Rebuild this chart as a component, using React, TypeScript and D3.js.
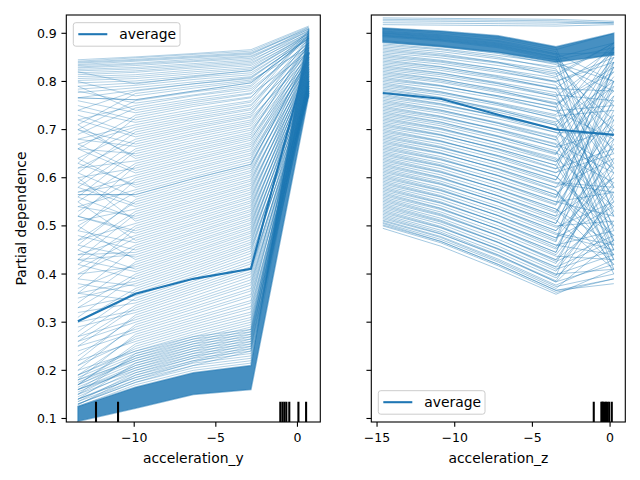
import React from 'react';
import * as d3 from 'd3';

// grid values of each feature
const accYGrid = [-13.45, -9.92, -6.38, -2.85, 0.69];
const accZGrid = [-14.63, -10.91, -7.2, -3.48, 0.24];

// average partial dependence
const accYAverage = [0.302, 0.359, 0.39, 0.411, 0.86];
const accZAverage = [0.776, 0.764, 0.731, 0.7, 0.689];

// dense bundles of ICE curves (lower / upper envelope)
const accYDenseLow = [0.094, 0.121, 0.15, 0.16, 0.77];
const accYDenseHigh = [0.125, 0.165, 0.195, 0.21, 0.91];
const accZDenseLow = [0.882, 0.872, 0.86, 0.84, 0.855];
const accZDenseHigh = [0.911, 0.905, 0.895, 0.872, 0.9];

// individual ICE curves
const accYIce = [
  [0.845, 0.851, 0.858, 0.866, 0.915], [0.842, 0.849, 0.856, 0.863, 0.913],
  [0.84, 0.846, 0.853, 0.86, 0.91], [0.838, 0.844, 0.851, 0.858, 0.908],
  [0.835, 0.842, 0.849, 0.856, 0.912], [0.833, 0.838, 0.846, 0.853, 0.905],
  [0.83, 0.836, 0.843, 0.851, 0.903], [0.828, 0.833, 0.841, 0.848, 0.909],
  [0.825, 0.829, 0.837, 0.845, 0.9], [0.822, 0.826, 0.834, 0.842, 0.906],
  [0.818, 0.822, 0.831, 0.839, 0.898], [0.814, 0.819, 0.828, 0.836, 0.902],
  [0.81, 0.814, 0.824, 0.833, 0.895], [0.806, 0.81, 0.82, 0.829, 0.899],
  [0.802, 0.806, 0.816, 0.826, 0.893], [0.797, 0.801, 0.812, 0.822, 0.896],
  [0.79, 0.797, 0.808, 0.818, 0.89], [0.784, 0.792, 0.804, 0.814, 0.894],
  [0.777, 0.787, 0.799, 0.81, 0.888], [0.766, 0.782, 0.795, 0.806, 0.892],
  [0.766, 0.762, 0.78, 0.797, 0.89], [0.766, 0.762, 0.78, 0.797, 0.89],
  [0.74, 0.78, 0.795, 0.808, 0.89], [0.8, 0.77, 0.786, 0.8, 0.885],
  [0.7, 0.76, 0.778, 0.792, 0.905], [0.72, 0.75, 0.77, 0.785, 0.88],
  [0.79, 0.74, 0.76, 0.776, 0.895], [0.66, 0.73, 0.752, 0.768, 0.875],
  [0.75, 0.72, 0.742, 0.76, 0.9], [0.68, 0.71, 0.733, 0.752, 0.87],
  [0.64, 0.7, 0.724, 0.744, 0.885], [0.73, 0.69, 0.715, 0.736, 0.865],
  [0.62, 0.68, 0.706, 0.728, 0.89], [0.7, 0.67, 0.697, 0.72, 0.86],
  [0.58, 0.66, 0.688, 0.712, 0.88], [0.66, 0.65, 0.678, 0.703, 0.855],
  [0.71, 0.64, 0.668, 0.694, 0.875], [0.55, 0.63, 0.659, 0.686, 0.85],
  [0.6, 0.62, 0.65, 0.678, 0.87], [0.66, 0.61, 0.64, 0.669, 0.845],
  [0.53, 0.6, 0.631, 0.66, 0.865], [0.57, 0.59, 0.621, 0.651, 0.84],
  [0.64, 0.58, 0.612, 0.642, 0.86], [0.5, 0.57, 0.602, 0.633, 0.835],
  [0.565, 0.565, 0.598, 0.628, 0.85], [0.565, 0.565, 0.598, 0.628, 0.85],
  [0.61, 0.56, 0.593, 0.624, 0.855], [0.47, 0.55, 0.583, 0.615, 0.83],
  [0.58, 0.54, 0.574, 0.606, 0.85], [0.45, 0.53, 0.564, 0.597, 0.825],
  [0.54, 0.52, 0.554, 0.588, 0.845], [0.6, 0.51, 0.545, 0.579, 0.82],
  [0.42, 0.5, 0.535, 0.57, 0.84], [0.52, 0.49, 0.525, 0.561, 0.815],
  [0.44, 0.48, 0.516, 0.552, 0.835], [0.55, 0.47, 0.506, 0.543, 0.81],
  [0.4, 0.46, 0.497, 0.534, 0.83], [0.48, 0.45, 0.487, 0.525, 0.805],
  [0.43, 0.44, 0.478, 0.516, 0.825], [0.5, 0.43, 0.468, 0.507, 0.8],
  [0.37, 0.42, 0.459, 0.498, 0.82], [0.45, 0.41, 0.449, 0.489, 0.795],
  [0.33, 0.4, 0.44, 0.48, 0.815], [0.42, 0.39, 0.43, 0.471, 0.79],
  [0.35, 0.38, 0.42, 0.462, 0.81], [0.3, 0.37, 0.41, 0.453, 0.785],
  [0.38, 0.36, 0.4, 0.443, 0.805], [0.27, 0.35, 0.39, 0.432, 0.78],
  [0.32, 0.34, 0.38, 0.421, 0.8], [0.25, 0.33, 0.37, 0.41, 0.775],
  [0.29, 0.32, 0.36, 0.4, 0.795], [0.23, 0.31, 0.348, 0.388, 0.77],
  [0.26, 0.3, 0.338, 0.377, 0.79], [0.21, 0.29, 0.327, 0.365, 0.785],
  [0.24, 0.28, 0.316, 0.353, 0.775], [0.19, 0.27, 0.305, 0.34, 0.8],
  [0.22, 0.26, 0.295, 0.328, 0.78], [0.17, 0.25, 0.285, 0.316, 0.79],
  [0.2, 0.24, 0.275, 0.305, 0.775], [0.16, 0.23, 0.265, 0.295, 0.795],
  [0.18, 0.22, 0.255, 0.285, 0.78], [0.15, 0.21, 0.245, 0.275, 0.785],
  [0.16, 0.2, 0.235, 0.265, 0.79], [0.14, 0.19, 0.226, 0.255, 0.775],
  [0.13, 0.18, 0.217, 0.245, 0.8], [0.125, 0.17, 0.2, 0.215, 0.8],
  [0.13, 0.175, 0.205, 0.22, 0.85], [0.135, 0.18, 0.21, 0.225, 0.82],
  [0.14, 0.185, 0.215, 0.23, 0.87], [0.128, 0.19, 0.22, 0.235, 0.79],
  [0.15, 0.195, 0.225, 0.24, 0.84], [0.145, 0.2, 0.23, 0.245, 0.88],
  [0.155, 0.205, 0.235, 0.25, 0.81], [0.16, 0.21, 0.24, 0.255, 0.86],
  [0.165, 0.215, 0.245, 0.26, 0.83], [0.17, 0.22, 0.25, 0.265, 0.89],
  [0.175, 0.225, 0.255, 0.27, 0.8], [0.18, 0.23, 0.26, 0.275, 0.85],
  [0.185, 0.235, 0.265, 0.28, 0.82], [0.19, 0.24, 0.27, 0.285, 0.87],
  [0.82, 0.795, 0.81, 0.823, 0.9], [0.71, 0.775, 0.79, 0.803, 0.87],
  [0.78, 0.755, 0.772, 0.789, 0.895], [0.69, 0.745, 0.764, 0.781, 0.88],
  [0.76, 0.735, 0.756, 0.774, 0.86], [0.63, 0.725, 0.748, 0.766, 0.905],
  [0.74, 0.715, 0.737, 0.757, 0.87], [0.67, 0.705, 0.728, 0.749, 0.89],
  [0.61, 0.695, 0.72, 0.741, 0.86], [0.72, 0.685, 0.71, 0.732, 0.88],
  [0.59, 0.675, 0.702, 0.725, 0.85], [0.68, 0.665, 0.692, 0.716, 0.875],
  [0.56, 0.655, 0.683, 0.708, 0.865], [0.7, 0.645, 0.673, 0.699, 0.845],
  [0.62, 0.635, 0.664, 0.69, 0.88], [0.52, 0.625, 0.655, 0.682, 0.84],
  [0.67, 0.615, 0.645, 0.673, 0.86], [0.57, 0.605, 0.636, 0.665, 0.835],
  [0.49, 0.595, 0.626, 0.656, 0.855], [0.63, 0.585, 0.617, 0.647, 0.83],
  [0.54, 0.575, 0.607, 0.638, 0.85], [0.46, 0.555, 0.588, 0.62, 0.825],
  [0.59, 0.545, 0.579, 0.611, 0.845], [0.51, 0.535, 0.569, 0.602, 0.82],
  [0.43, 0.525, 0.559, 0.593, 0.84], [0.56, 0.515, 0.55, 0.584, 0.815],
  [0.47, 0.505, 0.54, 0.575, 0.835], [0.39, 0.495, 0.53, 0.566, 0.81],
  [0.52, 0.485, 0.521, 0.557, 0.83], [0.41, 0.475, 0.511, 0.548, 0.805],
  [0.49, 0.465, 0.502, 0.539, 0.825], [0.36, 0.455, 0.492, 0.53, 0.8],
  [0.44, 0.445, 0.483, 0.521, 0.82], [0.46, 0.435, 0.473, 0.512, 0.795],
  [0.34, 0.425, 0.464, 0.503, 0.815], [0.4, 0.415, 0.454, 0.494, 0.79],
  [0.43, 0.405, 0.445, 0.485, 0.81], [0.31, 0.395, 0.435, 0.476, 0.785],
  [0.36, 0.385, 0.425, 0.466, 0.805], [0.39, 0.375, 0.415, 0.457, 0.78],
  [0.28, 0.365, 0.405, 0.448, 0.8], [0.33, 0.355, 0.395, 0.437, 0.775],
  [0.36, 0.345, 0.385, 0.426, 0.795], [0.26, 0.335, 0.375, 0.415, 0.77],
  [0.3, 0.325, 0.365, 0.405, 0.79], [0.22, 0.315, 0.354, 0.394, 0.785],
  [0.27, 0.305, 0.343, 0.382, 0.775], [0.2, 0.295, 0.332, 0.37, 0.8],
  [0.25, 0.285, 0.321, 0.358, 0.78], [0.18, 0.275, 0.31, 0.345, 0.79],
  [0.21, 0.265, 0.3, 0.333, 0.775], [0.17, 0.255, 0.29, 0.321, 0.795],
  [0.19, 0.245, 0.28, 0.31, 0.78], [0.15, 0.235, 0.27, 0.3, 0.8],
  [0.17, 0.225, 0.26, 0.29, 0.785], [0.14, 0.215, 0.25, 0.28, 0.79],
  [0.16, 0.205, 0.24, 0.27, 0.775], [0.135, 0.195, 0.23, 0.26, 0.8],
  [0.14, 0.185, 0.22, 0.25, 0.78], [0.13, 0.175, 0.21, 0.24, 0.79],
];

const accZIce = [
  [0.932, 0.931, 0.93, 0.929, 0.925], [0.929, 0.928, 0.927, 0.926, 0.922],
  [0.926, 0.925, 0.924, 0.923, 0.92], [0.922, 0.921, 0.92, 0.919, 0.923],
  [0.918, 0.917, 0.916, 0.915, 0.918],
  [0.905, 0.897, 0.885, 0.862, 0.52], [0.9, 0.891, 0.878, 0.855, 0.65],
  [0.895, 0.886, 0.872, 0.848, 0.75], [0.91, 0.903, 0.892, 0.87, 0.58],
  [0.898, 0.889, 0.876, 0.851, 0.46], [0.903, 0.895, 0.883, 0.858, 0.8],
  [0.893, 0.884, 0.87, 0.845, 0.69], [0.908, 0.9, 0.889, 0.866, 0.9],
  [0.896, 0.887, 0.874, 0.85, 0.88], [0.901, 0.893, 0.88, 0.857, 0.86],
  [0.885, 0.875, 0.861, 0.845, 0.87], [0.878, 0.868, 0.854, 0.838, 0.8],
  [0.872, 0.862, 0.847, 0.83, 0.86], [0.866, 0.855, 0.84, 0.822, 0.72],
  [0.86, 0.849, 0.833, 0.815, 0.88], [0.854, 0.842, 0.826, 0.807, 0.62],
  [0.848, 0.836, 0.819, 0.8, 0.84], [0.842, 0.83, 0.812, 0.792, 0.55],
  [0.836, 0.823, 0.805, 0.785, 0.78], [0.83, 0.817, 0.798, 0.777, 0.47],
  [0.824, 0.81, 0.791, 0.769, 0.86], [0.818, 0.804, 0.784, 0.762, 0.66],
  [0.812, 0.798, 0.777, 0.754, 0.83], [0.806, 0.791, 0.77, 0.747, 0.43],
  [0.8, 0.785, 0.764, 0.739, 0.75], [0.794, 0.778, 0.756, 0.731, 0.87],
  [0.788, 0.772, 0.75, 0.724, 0.58], [0.782, 0.766, 0.743, 0.716, 0.8],
  [0.776, 0.759, 0.736, 0.709, 0.5], [0.77, 0.753, 0.729, 0.701, 0.85],
  [0.764, 0.746, 0.722, 0.694, 0.69], [0.758, 0.74, 0.715, 0.686, 0.45],
  [0.752, 0.734, 0.708, 0.679, 0.82], [0.746, 0.727, 0.701, 0.671, 0.61],
  [0.74, 0.721, 0.694, 0.664, 0.78], [0.734, 0.715, 0.687, 0.656, 0.4],
  [0.728, 0.708, 0.68, 0.648, 0.86], [0.722, 0.702, 0.673, 0.641, 0.54],
  [0.716, 0.695, 0.666, 0.633, 0.73], [0.71, 0.689, 0.66, 0.626, 0.44],
  [0.704, 0.683, 0.653, 0.618, 0.84], [0.698, 0.676, 0.646, 0.611, 0.65],
  [0.692, 0.67, 0.639, 0.603, 0.48], [0.686, 0.663, 0.632, 0.596, 0.8],
  [0.68, 0.657, 0.625, 0.588, 0.57], [0.674, 0.651, 0.618, 0.58, 0.76],
  [0.668, 0.644, 0.611, 0.573, 0.42], [0.662, 0.638, 0.604, 0.565, 0.68],
  [0.656, 0.631, 0.597, 0.558, 0.83], [0.65, 0.625, 0.59, 0.55, 0.52],
  [0.644, 0.619, 0.583, 0.543, 0.71], [0.638, 0.612, 0.576, 0.535, 0.46],
  [0.632, 0.606, 0.569, 0.527, 0.79], [0.626, 0.6, 0.562, 0.52, 0.6],
  [0.62, 0.593, 0.555, 0.512, 0.41], [0.614, 0.587, 0.549, 0.505, 0.74],
  [0.608, 0.58, 0.541, 0.497, 0.55], [0.602, 0.574, 0.535, 0.49, 0.67],
  [0.596, 0.568, 0.528, 0.482, 0.45], [0.59, 0.561, 0.521, 0.475, 0.62],
  [0.584, 0.555, 0.514, 0.467, 0.77], [0.578, 0.548, 0.507, 0.46, 0.49],
  [0.572, 0.542, 0.5, 0.452, 0.58], [0.566, 0.536, 0.493, 0.445, 0.7],
  [0.56, 0.529, 0.486, 0.437, 0.43], [0.554, 0.523, 0.479, 0.429, 0.53],
  [0.548, 0.516, 0.472, 0.422, 0.64], [0.542, 0.51, 0.465, 0.414, 0.47],
  [0.536, 0.504, 0.458, 0.406, 0.56], [0.53, 0.497, 0.451, 0.399, 0.44],
  [0.524, 0.491, 0.445, 0.392, 0.51], [0.518, 0.484, 0.437, 0.384, 0.42],
  [0.51, 0.476, 0.428, 0.374, 0.4], [0.5, 0.465, 0.417, 0.362, 0.39],
  [0.495, 0.458, 0.41, 0.358, 0.41], [0.505, 0.468, 0.42, 0.366, 0.39],
  [0.881, 0.873, 0.858, 0.835, 0.78], [0.875, 0.866, 0.85, 0.826, 0.63],
  [0.869, 0.858, 0.84, 0.81, 0.88], [0.863, 0.853, 0.838, 0.818, 0.49],
  [0.857, 0.844, 0.826, 0.8, 0.85], [0.851, 0.84, 0.822, 0.798, 0.7],
  [0.845, 0.831, 0.81, 0.784, 0.61], [0.839, 0.827, 0.808, 0.786, 0.87],
  [0.833, 0.818, 0.796, 0.768, 0.53], [0.827, 0.814, 0.795, 0.772, 0.76],
  [0.821, 0.805, 0.782, 0.752, 0.82], [0.815, 0.801, 0.78, 0.756, 0.45],
  [0.809, 0.792, 0.768, 0.738, 0.68], [0.803, 0.79, 0.77, 0.746, 0.88],
  [0.797, 0.779, 0.753, 0.722, 0.56], [0.791, 0.776, 0.754, 0.728, 0.74],
  [0.785, 0.767, 0.741, 0.709, 0.84], [0.779, 0.763, 0.74, 0.713, 0.41],
  [0.773, 0.754, 0.727, 0.694, 0.62], [0.767, 0.751, 0.728, 0.7, 0.79],
  [0.761, 0.741, 0.713, 0.678, 0.52], [0.755, 0.738, 0.713, 0.684, 0.87],
  [0.749, 0.728, 0.699, 0.663, 0.7], [0.743, 0.725, 0.7, 0.669, 0.47],
  [0.737, 0.716, 0.686, 0.65, 0.81], [0.731, 0.712, 0.685, 0.652, 0.59],
  [0.725, 0.703, 0.672, 0.634, 0.77], [0.719, 0.7, 0.672, 0.638, 0.43],
  [0.713, 0.69, 0.658, 0.619, 0.66], [0.707, 0.688, 0.66, 0.626, 0.85],
  [0.701, 0.677, 0.644, 0.603, 0.5], [0.695, 0.675, 0.646, 0.61, 0.72],
  [0.689, 0.665, 0.631, 0.59, 0.58], [0.683, 0.662, 0.632, 0.595, 0.83],
  [0.677, 0.652, 0.617, 0.574, 0.44], [0.671, 0.65, 0.619, 0.58, 0.64],
  [0.665, 0.64, 0.604, 0.56, 0.75], [0.659, 0.637, 0.605, 0.565, 0.48],
  [0.653, 0.627, 0.59, 0.545, 0.87], [0.647, 0.624, 0.591, 0.55, 0.57],
  [0.641, 0.614, 0.576, 0.53, 0.69], [0.635, 0.611, 0.577, 0.535, 0.42],
  [0.629, 0.601, 0.562, 0.515, 0.63], [0.623, 0.598, 0.563, 0.52, 0.8],
  [0.617, 0.589, 0.549, 0.5, 0.51], [0.611, 0.586, 0.55, 0.505, 0.73],
  [0.605, 0.576, 0.535, 0.485, 0.46], [0.599, 0.573, 0.536, 0.49, 0.6],
  [0.593, 0.563, 0.521, 0.47, 0.84], [0.587, 0.56, 0.522, 0.475, 0.54],
  [0.581, 0.55, 0.507, 0.455, 0.66], [0.575, 0.547, 0.508, 0.46, 0.44],
  [0.569, 0.537, 0.493, 0.44, 0.59], [0.563, 0.534, 0.494, 0.445, 0.72],
  [0.557, 0.525, 0.48, 0.426, 0.48], [0.551, 0.521, 0.48, 0.43, 0.61],
  [0.545, 0.512, 0.466, 0.41, 0.45], [0.539, 0.508, 0.466, 0.415, 0.55],
  [0.533, 0.499, 0.452, 0.396, 0.68], [0.527, 0.496, 0.453, 0.4, 0.41],
  [0.521, 0.487, 0.44, 0.383, 0.5], [0.515, 0.483, 0.439, 0.386, 0.57],
  [0.512, 0.478, 0.431, 0.377, 0.43], [0.507, 0.472, 0.425, 0.37, 0.47],
  [0.502, 0.468, 0.42, 0.366, 0.38],
];

// deciles of the feature values (rug)
const accYDeciles = [-12.34, -10.99, -1.05, -0.92, -0.8, -0.68, -0.5, 0.06, 0.53];
const accZDeciles = [-1.05, -0.56, -0.5, -0.45, -0.35, -0.26, -0.17, -0.06, 0.11];

// tick values
const yTicks = [0.1, 0.2, 0.3, 0.4, 0.5, 0.6, 0.7, 0.8, 0.9];
const accYTicks = [-10, -5, 0];
const accZTicks = [-15, -10, -5, 0];

const BLUE = '#1f77b4';
const FONT = 'DejaVu Sans, sans-serif';
const TOP = 15;
const BOTTOM = 422;

const yScale = d3.scaleLinear().domain([0.0927, 0.938]).range([BOTTOM, TOP]);

const fmt = (v: number) => (v < 0 ? '\u2212' + Math.abs(v) : String(v));

type PanelProps = {
  id: string;
  left: number;
  right: number;
  xDomain: [number, number];
  grid: number[];
  ice: number[][];
  iceOpacity: number;
  avg: number[];
  low: number[];
  high: number[];
  deciles: number[];
  ticks: number[];
  label: string;
  showYLabels: boolean;
  legendX: number;
  legendY: number;
};

function Panel(p: PanelProps) {
  const x = d3.scaleLinear().domain(p.xDomain).range([p.left, p.right]);
  const line = d3
    .line<number>()
    .x((_, i) => x(p.grid[i]))
    .y((d) => yScale(d));
  const area = d3
    .area<number>()
    .x((_, i) => x(p.grid[i]))
    .y0((_, i) => yScale(p.low[i]))
    .y1((_, i) => yScale(p.high[i]));
  const cx = (p.left + p.right) / 2;
  const rugH = (BOTTOM - TOP) * 0.05;
  return (
    <g>
      <defs>
        <clipPath id={p.id}>
          <rect x={p.left} y={TOP} width={p.right - p.left} height={BOTTOM - TOP} />
        </clipPath>
      </defs>
      <g clipPath={`url(#${p.id})`}>
        <path d={area(p.low) || ''} fill={BLUE} fillOpacity={0.82} stroke={BLUE} strokeOpacity={0.5} strokeWidth={1.5} />
        {p.ice.map((row, i) => (
          <path key={i} d={line(row) || ''} fill="none" stroke={BLUE} strokeOpacity={p.iceOpacity} strokeWidth={0.8} />
        ))}
        <path d={line(p.avg) || ''} fill="none" stroke={BLUE} strokeWidth={2.08} />
        {p.deciles.map((d, i) => (
          <line key={i} x1={x(d)} x2={x(d)} y1={BOTTOM} y2={BOTTOM - rugH} stroke="black" strokeWidth={2.08} />
        ))}
      </g>
      <rect x={p.left} y={TOP} width={p.right - p.left} height={BOTTOM - TOP} fill="none" stroke="black" strokeWidth={1.1} />
      {yTicks.map((t) => (
        <g key={t}>
          <line x1={p.left - 4.86} x2={p.left} y1={yScale(t)} y2={yScale(t)} stroke="black" strokeWidth={1.1} />
          {p.showYLabels && (
            <text x={p.left - 9.5} y={yScale(t)} dy="0.36em" textAnchor="end" fontSize={12.5} fontFamily={FONT}>
              {t.toFixed(1)}
            </text>
          )}
        </g>
      ))}
      {p.ticks.map((t) => (
        <g key={t}>
          <line x1={x(t)} x2={x(t)} y1={BOTTOM} y2={BOTTOM + 4.86} stroke="black" strokeWidth={1.1} />
          <text x={x(t)} y={442} textAnchor="middle" fontSize={12.5} fontFamily={FONT}>
            {fmt(t)}
          </text>
        </g>
      ))}
      <text x={cx} y={462.5} textAnchor="middle" fontSize={13.9} fontFamily={FONT}>
        {p.label}
      </text>
      <g>
        <rect x={p.legendX} y={p.legendY} width={106.7} height={23.5} rx={2.5} fill="white" fillOpacity={0.8} stroke="#cccccc" strokeWidth={1} />
        <line x1={p.legendX + 5} x2={p.legendX + 34} y1={p.legendY + 11.5} y2={p.legendY + 11.5} stroke={BLUE} strokeWidth={2.08} />
        <text x={p.legendX + 46} y={p.legendY + 11.5} dy="0.33em" fontSize={13.9} fontFamily={FONT}>
          average
        </text>
      </g>
    </g>
  );
}

export default function App() {
  return (
    <svg width={640} height={480} style={{ position: 'absolute', left: 0, top: 0, background: 'white' }}>
      <rect x={0} y={0} width={640} height={480} fill="white" />
      <Panel
        id="clipY"
        left={66.3}
        right={320.3}
        xDomain={[-14.16, 1.4]}
        grid={accYGrid}
        ice={accYIce}
        iceOpacity={0.42}
        avg={accYAverage}
        low={accYDenseLow}
        high={accYDenseHigh}
        deciles={accYDeciles}
        ticks={accYTicks}
        label="acceleration_y"
        showYLabels={true}
        legendX={73.3}
        legendY={22.7}
      />
      <Panel
        id="clipZ"
        left={371.3}
        right={625.3}
        xDomain={[-15.37, 0.98]}
        grid={accZGrid}
        ice={accZIce}
        iceOpacity={0.5}
        avg={accZAverage}
        low={accZDenseLow}
        high={accZDenseHigh}
        deciles={accZDeciles}
        ticks={accZTicks}
        label="acceleration_z"
        showYLabels={false}
        legendX={378.3}
        legendY={390.7}
      />
      <text
        transform="translate(26,218.5) rotate(-90)"
        textAnchor="middle"
        fontSize={13.9}
        fontFamily={FONT}
      >
        Partial dependence
      </text>
    </svg>
  );
}
